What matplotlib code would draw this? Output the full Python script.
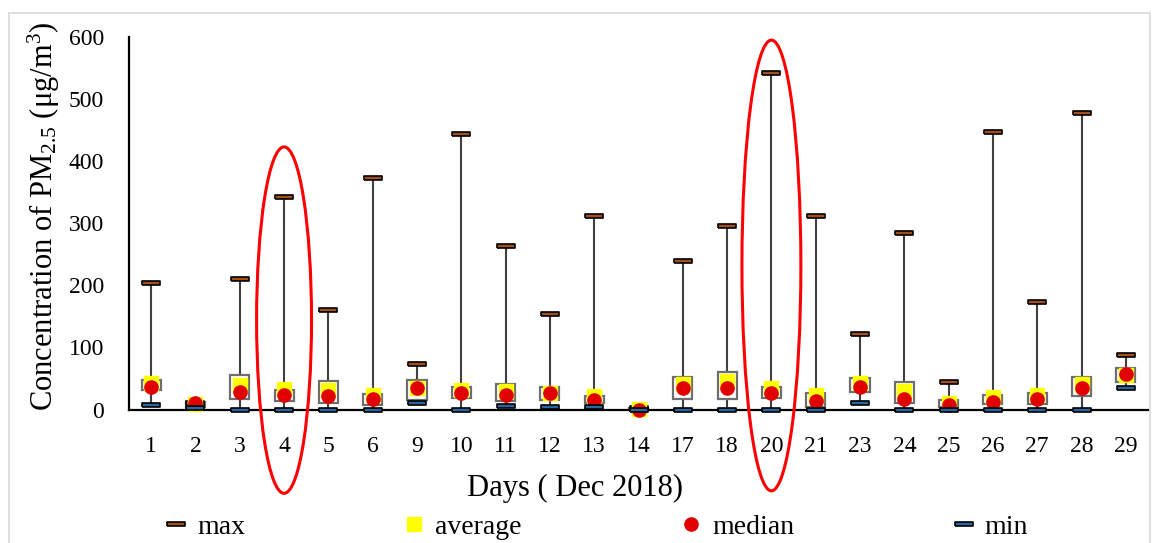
import matplotlib
matplotlib.use("Agg")
import matplotlib.pyplot as plt
from matplotlib.lines import Line2D
from matplotlib.patches import Rectangle, Ellipse
import numpy as np

plt.rcParams['font.family'] = ['Liberation Serif', 'DejaVu Serif']
plt.rcParams['mathtext.fontset'] = 'custom'
plt.rcParams['mathtext.rm'] = 'Liberation Serif'
plt.rcParams['mathtext.it'] = 'Liberation Serif:italic'

days = ['1', '2', '3', '4', '5', '6', '9', '10', '11', '12', '13', '14',
        '17', '18', '20', '21', '23', '24', '25', '26', '27', '28', '29']
pm_max = [203, 10, 210, 343, 160, 373, 73, 443, 264, 154, 312, 2,
          240, 295, 542, 311, 121, 285, 45, 447, 173, 477, 87]
pm_min = [7, 2, 0, 0, 0, 0, 10, 0, 5, 4, 4, 0,
          0, 0, 0, 0, 10, 0, 0, 0, 0, 0, 35]
pm_avg = [43, 9, 39, 33, 31, 24, 35, 32, 30, 27, 22, 1,
          41, 46, 35, 23, 42, 30, 11, 20, 23, 41, 55]
pm_median = [36, 10, 28, 24, 22, 17, 35, 27, 23, 26, 16, 0,
             34, 35, 26, 14, 37, 17, 7, 12, 17, 35, 57]
box_low = [31, 4, 17, 13, 11, 7, 16, 18, 14, 16, 10, 0,
           17, 17, 18, 4, 28, 10, 4, 9, 9, 22, 45]
box_high = [47, 12, 56, 32, 46, 25, 48, 36, 41, 36, 22, 2,
            52, 61, 36, 26, 51, 45, 16, 23, 26, 52, 67]

# highlighted days (red ellipses): day, y-centre, width, height (data units)
highlights = [('4', 144, 1.24, 558), ('20', 232, 1.33, 726)]

W, H = 1156, 543
fig = plt.figure(figsize=(W / 100, H / 100), dpi=100)
ax = fig.add_axes([129 / W, 1 - 409.5 / H, (1148 - 129) / W, (409.5 - 37) / H])

x = np.arange(len(days))
dash = [(-1, -0.2), (1, -0.2), (1, 0.2), (-1, 0.2), (-1, -0.2)]
max_style = dict(marker=dash, ms=12.5, mfc='#a4501a', mec='black', mew=1.2)
min_style = dict(marker=dash, ms=12.5, mfc='#2a66a0', mec='black', mew=1.2)

ax.vlines(x, pm_min, pm_max, color='#404040', lw=1.5, zorder=2)
for xi, lo, hi in zip(x, box_low, box_high):
    ax.add_patch(Rectangle((xi - 0.215, lo), 0.43, hi - lo, facecolor='white',
                           edgecolor='#6e6e6e', lw=1.6, zorder=3))
ax.plot(x, pm_max, ls='none', zorder=4, clip_on=False, **max_style)
ax.plot(x, pm_avg, ls='none', marker='s', ms=10.5, color='#ffff00', zorder=5,
        clip_on=False)
ax.plot(x, pm_median, ls='none', marker='o', ms=9.5, color='#e00000', zorder=6,
        clip_on=False)
ax.plot(x, pm_min, ls='none', zorder=7, clip_on=False, **min_style)

for day, yc, w, h in highlights:
    ax.add_patch(Ellipse((days.index(day), yc), w, h, fill=False,
                         edgecolor='#ff0000', lw=2.2, zorder=8, clip_on=False))

ax.set_xlim(-0.5, len(days) - 0.5)
ax.set_ylim(0, 600)
ax.set_yticks(range(0, 601, 100))
ax.set_xticks(x)
ax.set_xticklabels(days)
ax.tick_params(axis='both', length=0, labelsize=17)
ax.tick_params(axis='x', pad=19)
ax.tick_params(axis='y', pad=18)
for s in ['top', 'right']:
    ax.spines[s].set_visible(False)
for s in ['left', 'bottom']:
    ax.spines[s].set_linewidth(1.6)
    ax.spines[s].set_zorder(3.5)

ax.set_xlabel('Days ( Dec 2018)', fontsize=22)
ax.xaxis.set_label_coords(0.438, -0.173)
ax.set_ylabel('Concentration of PM$_{\\mathrm{2.5}}$ (μg/m$^{\\mathrm{3}}$)', fontsize=22)
ax.yaxis.set_label_coords(-0.066, 0.519)

handles = [
    Line2D([], [], ls='none', **max_style),
    Line2D([], [], ls='none', marker='s', ms=10.5, color='#ffff00'),
    Line2D([], [], ls='none', marker='o', ms=9.5, color='#e00000'),
    Line2D([], [], ls='none', **min_style),
]
fig.legend(handles, ['max', 'average', 'median', 'min'], loc='center',
           bbox_to_anchor=(0.516, 1 - 527 / H), ncol=4, frameon=False,
           fontsize=20, columnspacing=5.7, handlelength=0.8, handletextpad=0.35)

fig.add_artist(Rectangle((9 / W, -0.1), (1150 - 9) / W, 0.1 + (543 - 13) / H,
                         transform=fig.transFigure, fill=False,
                         edgecolor='#d9d9d9', lw=1.2))

fig.savefig('out.png', dpi=100)
